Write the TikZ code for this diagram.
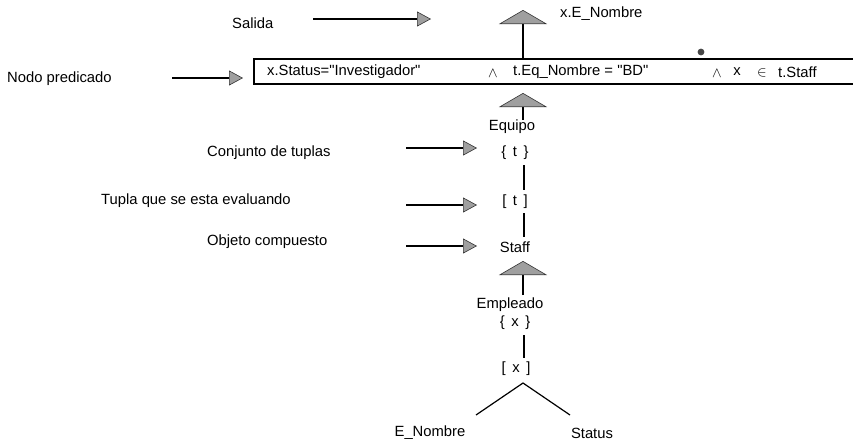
\documentclass[tikz,border=0pt]{standalone}
\usepackage{fontspec}
\setmainfont{Liberation Sans}
\usetikzlibrary{arrows.meta}
\tikzset{
  lbl/.style={inner sep=0pt, font=\fontsize{14.8}{17}\selectfont},
  pointer/.style={line width=1.2pt, -{Triangle[length=14pt,width=15pt,fill=gray!75,color=gray!40!black,line width=0.6pt]}},
  upper/.style={line width=1.2pt, -{Triangle[length=14pt,width=48pt,fill=gray!75,color=gray!40!black,line width=0.6pt]}},
  edge/.style={line width=1.2pt},
}
\begin{document}
\begin{tikzpicture}[x=1pt,y=-1pt]
\useasboundingbox (0,0) rectangle (853,445);
% predicate box (open to the right)
\draw[line width=1.2pt] (860,59) -- (254,59) -- (254,84) -- (860,84);
\node[lbl,anchor=west] (st) at (267,72) {x.Status=\textquotedbl Investigador\textquotedbl};
\node[lbl] (and1) at (493,73) {$\wedge$};
\node[lbl,anchor=west] (eq) at (513,72) {t.Eq\_Nombre = \textquotedbl BD\textquotedbl};
\node[lbl] (and2) at (717,73) {$\wedge$};
\node[lbl] (xx) at (737,72) {x};
\node[lbl] (in) at (762,73) {$\in$};
\node[lbl,anchor=west] (ts) at (778,72) {t.Staff};
\fill[gray!55!black] (701,52) circle (3.4pt);
% output
\coordinate (boxtop) at (523,59);
\coordinate (outtip) at (523,10);
\draw[upper] (boxtop) -- (outtip);
\node[lbl,anchor=west] (out) at (560,14) {x.E\_Nombre};
% tree
\node[lbl] (equipo) at (512,127) {Equipo};
\coordinate (boxtip) at (523,93);
\draw[upper] (equipo.north -| boxtip) -- (boxtip);
\node[lbl] (setT) at (515,153) {\{\, t \,\}};
\node[lbl] (tupT) at (515,202) {[\, t \,]};
\node[lbl] (staff) at (515,247) {Staff};
\draw[edge] (524,165) -- (524,190);
\draw[edge] (524,213) -- (524,237);
\node[lbl] (empleado) at (510,305) {Empleado};
\node[lbl] (setX) at (515,323) {\{\, x \,\}};
\coordinate (stafftip) at (523,261);
\draw[upper] (523,295) -- (stafftip);
\draw[edge] (524,335) -- (524,358);
\node[lbl] (tupX) at (516,369) {[\, x \,]};
\node[lbl] (enom) at (430,433) {E\_Nombre};
\node[lbl] (status) at (592,433) {Status};
\coordinate (fork) at (523,383);
\coordinate (forkL) at (476,415);
\coordinate (forkR) at (570,415);
\draw[edge] (forkL) -- (fork) -- (forkR);
% left labels
\node[lbl,anchor=west] (salida) at (232,23) {Salida};
\coordinate (sa) at (313,19); \coordinate (sb) at (431,19);
\draw[pointer] (sa) -- (sb);
\node[lbl,anchor=west] (nodo) at (7,79) {Nodo predicado};
\coordinate (na) at (172,78); \coordinate (nb) at (243,78);
\draw[pointer] (na) -- (nb);
\node[lbl,anchor=west] (conj) at (207,153) {Conjunto de tuplas};
\coordinate (ca) at (406,148); \coordinate (cb) at (477,148);
\draw[pointer] (ca) -- (cb);
\node[lbl,anchor=west] (tupla) at (101,201) {Tupla que se esta evaluando};
\coordinate (ta) at (406,205); \coordinate (tb) at (477,205);
\draw[pointer] (ta) -- (tb);
\node[lbl,anchor=west] (obj) at (207,242) {Objeto compuesto};
\coordinate (oa) at (406,246); \coordinate (ob) at (477,246);
\draw[pointer] (oa) -- (ob);
\end{tikzpicture}
\end{document}
